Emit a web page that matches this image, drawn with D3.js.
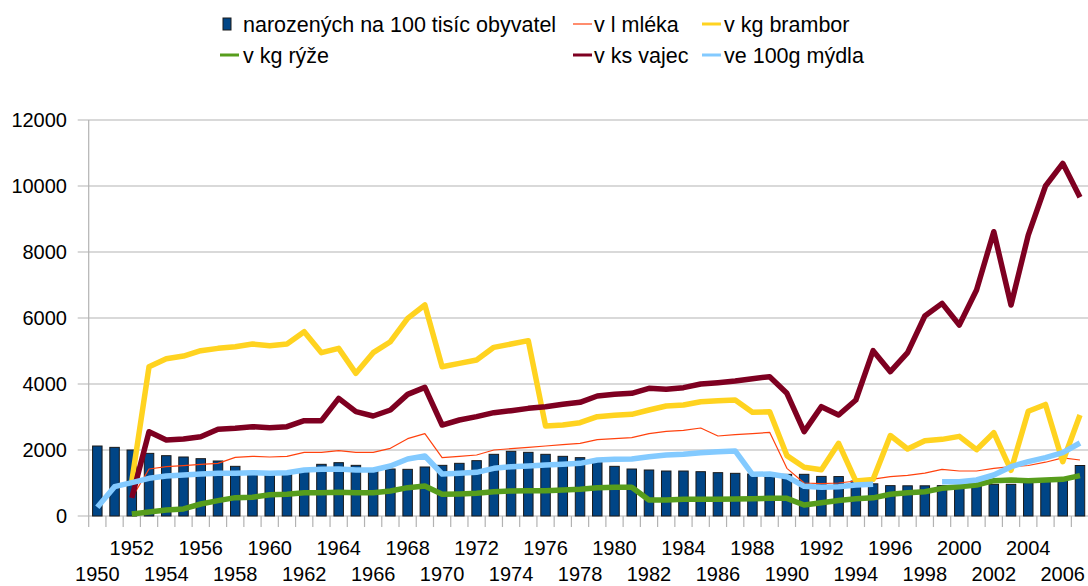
<!DOCTYPE html>
<html><head><meta charset="utf-8">
<script src="https://cdn.jsdelivr.net/npm/d3@7"></script>
<style>html,body{margin:0;padding:0;background:#fff;}svg{display:block;font-family:"Liberation Sans",Arial,sans-serif;}</style>
</head><body>
<svg id="c" width="1088" height="586"></svg>
<script>
const years = [1950,1951,1952,1953,1954,1955,1956,1957,1958,1959,1960,1961,1962,1963,1964,1965,1966,1967,1968,1969,1970,1971,1972,1973,1974,1975,1976,1977,1978,1979,1980,1981,1982,1983,1984,1985,1986,1987,1988,1989,1990,1991,1992,1993,1994,1995,1996,1997,1998,1999,2000,2001,2002,2003,2004,2005,2006,2007];
const births = [2121,2080,2000,1898,1828,1788,1737,1667,1505,1350,1340,1345,1394,1566,1616,1535,1414,1424,1414,1485,1535,1596,1677,1869,1960,1929,1869,1808,1768,1646,1505,1424,1394,1363,1363,1343,1313,1293,1273,1252,1262,1263,1200,1195,1060,975,920,915,915,920,925,945,960,960,1010,1060,1111,1530];
const milk = [null,null,550,1424,1495,1525,1566,1596,1778,1808,1788,1808,1929,1929,1980,1929,1929,2050,2343,2495,1768,1808,1848,2000,2040,2081,2121,2162,2202,2313,2343,2373,2495,2565,2596,2666,2424,2464,2495,2535,1444,1000,980,1000,1060,1120,1192,1232,1300,1414,1363,1363,1444,1495,1530,1630,1760,1697];
const potatoes = [null,null,1050,4525,4767,4848,5010,5080,5131,5212,5161,5212,5585,4949,5080,4323,4949,5282,5989,6393,4525,4626,4727,5111,5212,5313,2727,2757,2828,3010,3050,3081,3212,3333,3363,3464,3495,3515,3141,3161,1830,1480,1400,2202,1060,1110,2440,2030,2283,2323,2414,2010,2525,1384,3175,3380,1646,3060];
const rice = [null,null,61,121,182,215,364,465,556,566,646,657,707,707,717,707,707,758,859,909,657,667,687,737,758,768,768,788,808,859,869,869,485,485,505,505,505,515,525,535,535,333,400,470,520,550,660,707,737,838,889,939,1070,1091,1070,1091,1111,1222];
const eggs = [null,null,550,2555,2303,2333,2404,2626,2656,2707,2676,2707,2889,2889,3565,3161,3030,3212,3686,3898,2757,2909,3010,3131,3192,3262,3313,3384,3444,3636,3686,3717,3868,3838,3889,4000,4040,4091,4161,4222,3717,2555,3313,3060,3515,5010,4373,4949,6060,6444,5787,6848,8615,6393,8514,9999,10686,9656];
const soap = [263,889,1010,1141,1212,1242,1273,1293,1293,1313,1293,1313,1394,1414,1424,1394,1394,1515,1727,1818,1273,1293,1323,1444,1495,1515,1545,1566,1596,1697,1717,1727,1798,1848,1869,1919,1949,1970,1262,1273,1192,900,869,889,939,960,null,null,null,1040,1040,1091,1242,1495,1646,1768,1919,2212];
const yTicks = [0,2000,4000,6000,8000,10000,12000];
const seriesNames = ["narozených na 100 tisíc obyvatel","v l mléka","v kg brambor","v kg rýže","v ks vajec","ve 100g mýdla"];

const colors = {bar:"#004586", milk:"#ff420e", potatoes:"#ffd320", rice:"#579d1c", eggs:"#7e0021", soap:"#83caff"};
const svg = d3.select("#c");
const plotL = 88.7, plotR = 1088.6, plotT = 120, plotB = 516;
const x = d3.scaleBand().domain(years).range([plotL, plotR]).paddingInner(0.45).paddingOuter(0.225);
const xb = d3.scaleBand().domain(years).range([plotL, plotR]);
const y = d3.scaleLinear().domain([0, 12000]).range([plotB, plotT]);
const grid = "#b3b3b3";

// gridlines
svg.append("g").selectAll("line").data(yTicks).join("line")
  .attr("x1", plotL - 11).attr("x2", plotR).attr("y1", d => y(d)).attr("y2", d => y(d))
  .attr("stroke", grid).attr("stroke-width", 1.2);
// y axis line
svg.append("line").attr("x1", plotL).attr("x2", plotL).attr("y1", plotT).attr("y2", plotB + 11).attr("stroke", grid).attr("stroke-width", 1.2);
// x ticks at band boundaries
svg.append("g").selectAll("line").data(years).join("line")
  .attr("x1", d => xb(d) + xb.bandwidth()).attr("x2", d => xb(d) + xb.bandwidth())
  .attr("y1", plotB).attr("y2", plotB + 11).attr("stroke", grid).attr("stroke-width", 1.2);

// y labels
svg.append("g").selectAll("text").data(yTicks).join("text")
  .attr("x", 67).attr("y", d => y(d)).attr("dy", "0.36em").attr("text-anchor", "end")
  .attr("font-size", 20).attr("fill", "#000").text(d => d);

// x labels
const labeled = years.filter(d => d % 2 === 0);
svg.append("g").selectAll("text").data(labeled).join("text")
  .attr("x", d => xb(d) + xb.bandwidth() / 2)
  .attr("y", d => ((d - 1950) % 4 === 0) ? 581 : 555)
  .attr("text-anchor", "middle").attr("font-size", 20).attr("fill", "#000").text(d => d);

// bars
svg.append("g").selectAll("rect").data(births).join("rect")
  .attr("x", (d, i) => x(years[i])).attr("width", x.bandwidth())
  .attr("y", d => y(d)).attr("height", d => y(0) - y(d))
  .attr("fill", colors.bar).attr("stroke", "#1a1a1a").attr("stroke-width", 1);

// lines
function drawLine(vals, color, w) {
  const line = d3.line()
    .defined(d => d != null)
    .x((d, i) => xb(years[i]) + xb.bandwidth() / 2)
    .y(d => y(d));
  svg.append("path").attr("d", line(vals)).attr("fill", "none")
    .attr("stroke", color).attr("stroke-width", w).attr("stroke-linejoin", "round");
}
drawLine(milk, colors.milk, 1.2);
drawLine(potatoes, colors.potatoes, 5.5);
drawLine(rice, colors.rice, 5.5);
drawLine(eggs, colors.eggs, 5.5);
drawLine(soap, colors.soap, 5.5);

// legend
const legend = [
  {name: seriesNames[0], type: "bar", color: colors.bar, mx: 223, tx: 243, row: 0},
  {name: seriesNames[1], type: "thin", color: colors.milk, mx: 573, tx: 594, row: 0},
  {name: seriesNames[2], type: "line", color: colors.potatoes, mx: 702, tx: 724, row: 0},
  {name: seriesNames[3], type: "line", color: colors.rice, mx: 220, tx: 243, row: 1},
  {name: seriesNames[4], type: "line", color: colors.eggs, mx: 573, tx: 594, row: 1},
  {name: seriesNames[5], type: "line", color: colors.soap, mx: 702, tx: 724, row: 1}
];
const lg = svg.append("g");
legend.forEach(l => {
  const cy = l.row === 0 ? 24 : 55;
  if (l.type === "bar") {
    lg.append("rect").attr("x", l.mx).attr("y", cy - 6).attr("width", 8).attr("height", 12)
      .attr("fill", l.color).attr("stroke", "#1a1a1a").attr("stroke-width", 1);
  } else {
    lg.append("line").attr("x1", l.mx).attr("x2", l.mx + 19).attr("y1", cy).attr("y2", cy)
      .attr("stroke", l.color).attr("stroke-width", l.type === "thin" ? 1.2 : 3);
  }
  lg.append("text").attr("x", l.tx).attr("y", cy + 7.5).attr("font-size", 21.5).attr("fill", "#000").text(l.name);
});
</script>
</body></html>
